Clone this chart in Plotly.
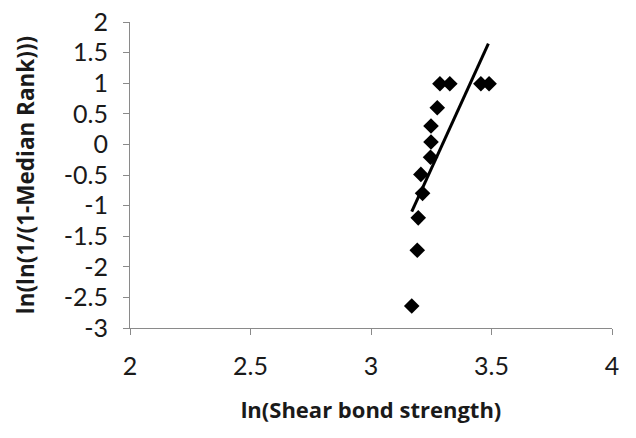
import plotly.graph_objects as go

# Data
ln_strength = [3.169, 3.192, 3.196, 3.214, 3.207, 3.247, 3.249, 3.249, 3.275,
               3.286, 3.327, 3.456, 3.490]
ln_ln_rank = [-2.64, -1.73, -1.20, -0.80, -0.49, -0.21, 0.04, 0.30, 0.60,
              0.99, 0.99, 0.99, 0.99]

# Linear trendline endpoints
trend_x = [3.169, 3.487]
trend_y = [-1.10, 1.645]

x_ticks = [2, 2.5, 3, 3.5, 4]
y_ticks = [2, 1.5, 1, 0.5, 0, -0.5, -1, -1.5, -2, -2.5, -3]

font_family = "Lato"
title_family = "Open Sans"
axis_color = "#8a8a8a"
text_color = "#1a1a1a"

fig = go.Figure()
fig.add_trace(go.Scatter(
    x=ln_strength, y=ln_ln_rank, mode="markers",
    marker=dict(symbol="diamond", size=12, color="black"),
    showlegend=False,
))
fig.add_trace(go.Scatter(
    x=trend_x, y=trend_y, mode="lines",
    line=dict(color="black", width=3),
    showlegend=False,
))

fig.update_layout(
    width=636, height=438,
    margin=dict(l=130, r=24, t=22, b=110),
    paper_bgcolor="white", plot_bgcolor="white",
    font=dict(family=font_family, color=text_color, size=24),
    xaxis=dict(
        range=[2, 4], tickvals=x_ticks, ticktext=[str(v) for v in x_ticks],
        tickfont=dict(family=font_family, size=25, color=text_color),
        showgrid=False, zeroline=False, showline=True, linecolor=axis_color,
        linewidth=1, ticks="outside", ticklen=6, tickcolor=axis_color,
        ticklabelstandoff=10, automargin=False, ticklabeloverflow="allow",
        title=dict(text="<b>ln(Shear bond strength)</b>",
                   font=dict(size=22, family=title_family, color=text_color),
                   standoff=23),
    ),
    yaxis=dict(
        range=[-3, 2], tickvals=y_ticks, ticktext=[str(v) for v in y_ticks],
        tickfont=dict(family=font_family, size=25, color=text_color),
        showgrid=False, zeroline=False, showline=True, linecolor=axis_color,
        linewidth=1, ticks="outside", ticklen=6, tickcolor=axis_color,
        ticklabelstandoff=10, automargin=False, ticklabeloverflow="allow",
        title=dict(text="<b>ln(ln(1/(1-Median Rank)))</b>",
                   font=dict(size=22.5, family=title_family, color=text_color),
                   standoff=22),
    ),
)

fig.write_html(
    "out.html",
    config={"displayModeBar": False},
    post_script="document.body.style.margin='0';document.body.style.overflow='hidden';",
)
